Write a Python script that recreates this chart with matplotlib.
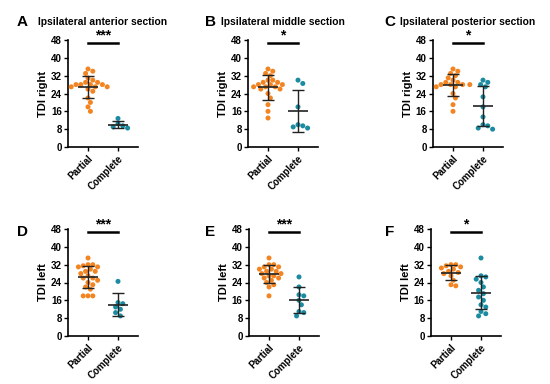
import numpy as np
import matplotlib
matplotlib.use("Agg")
import matplotlib.pyplot as plt

plt.rcParams['font.family'] = ['Liberation Sans', 'DejaVu Sans']

groups = ["Partial", "Complete"]
titles = ["Ipsilateral anterior section", "Ipsilateral middle section",
          "Ipsilateral posterior section", "", "", ""]
letters = ["A", "B", "C", "D", "E", "F"]
ylabels = ["TDI right", "TDI right", "TDI right", "TDI left", "TDI left", "TDI left"]
stars = ["***", "*", "*", "***", "***", "*"]
yticks = [0, 8, 16, 24, 32, 40, 48]

partial_A = [35, 34, 33, 31, 30, 29, 29, 28, 28, 28, 28, 27, 27, 27, 26, 25, 22, 20, 18, 16]
complete_A = [12.8, 10.5, 9.5, 9.0, 8.5]
partial_B = [35, 34, 33, 32, 30, 30, 29, 29, 28, 28, 28, 27, 27, 27, 26, 26, 24, 22, 19, 16, 13]
complete_B = [30, 28.5, 18, 10, 9.5, 9, 8.5]
partial_C = [35, 34, 33, 32, 31, 30, 29, 29, 28, 28, 28, 28, 27, 27, 24, 22, 19, 16]
complete_C = [30, 29, 28, 27, 22.5, 18, 13.5, 10, 9.5, 8.5, 8]
partial_D = [35, 32, 32, 31.5, 31, 31, 30, 29, 29, 28, 27, 26, 26, 25, 24, 23, 22, 21, 18, 18, 18]
complete_D = [24.5, 15, 14.5, 13, 12, 10.5, 9]
partial_E = [35, 32, 32, 31, 31, 30, 30, 29, 29, 28, 28, 27, 27, 26, 26, 25, 24, 23, 22, 18]
complete_E = [26.5, 22, 18.5, 18, 16, 14, 11, 10.5, 9]
partial_F = [32, 32, 31.5, 31, 30.5, 30, 29, 28.5, 28, 27, 25, 23, 22.5]
complete_F = [35, 27, 26.5, 25.5, 24, 22, 20.5, 19, 17.5, 16, 14, 13, 11, 10, 9]

data = [(partial_A, complete_A), (partial_B, complete_B), (partial_C, complete_C),
        (partial_D, complete_D), (partial_E, complete_E), (partial_F, complete_F)]

colors = ["#F28522", "#1A8BA0"]

W, H = 550, 384
fig = plt.figure(figsize=(W / 100, H / 100), dpi=100)

# axes positions in pixels: left, top, width, height
lefts = [68, 248, 433, 68, 249, 431]
tops = [40, 40, 40, 229, 229, 229]
aw, ah = 70, 107
letter_x = [22, 210, 390, 22, 210, 390]
letter_y = [22, 22, 22, 232, 232, 232]

XMIN, XMAX = -0.667, 1.667
YMIN, YMAX = 0, 48


def swarm(vals, pos, xscale, yscale, d=4.8):
    vals = np.asarray(vals, float)
    order = np.argsort(vals)[::-1]
    placed = []
    xs = np.zeros(len(vals))
    for i in order:
        yv = vals[i] * yscale
        cands = [0.0]
        for k in range(1, 12):
            cands += [k * d / 2, -k * d / 2]
        for c in cands:
            ok = True
            for (px, py) in placed:
                if (px - c) ** 2 + (py - yv) ** 2 < d * d:
                    ok = False
                    break
            if ok:
                break
        placed.append((c, yv))
        xs[i] = pos + c / xscale
    return xs


for k in range(6):
    l, t = lefts[k], tops[k]
    ax = fig.add_axes([l / W, 1 - (t + ah) / H, aw / W, ah / H])
    xscale = aw / (XMAX - XMIN)
    yscale = ah / (YMAX - YMIN)
    for g, vals in enumerate(data[k]):
        xs = swarm(vals, g, xscale, yscale)
        ax.scatter(xs, vals, s=13, color=colors[g], edgecolors="none", zorder=3, clip_on=False)
        m = np.mean(vals)
        sd = np.std(vals, ddof=1)
        ax.hlines(m, g - 0.33, g + 0.33, color="#222222", lw=1.2, zorder=4)
        ax.errorbar([g], [m], yerr=[[sd], [sd]], fmt="none", ecolor="#222222",
                    elinewidth=1.0, capsize=4, capthick=1.0, zorder=4)
    ax.set_xlim(XMIN, XMAX)
    ax.set_ylim(YMIN, YMAX)
    ax.set_yticks(yticks)
    ax.set_xticks([0, 1])
    ax.set_xticklabels(groups, rotation=45, ha="right", rotation_mode="anchor",
                       fontsize=7, fontweight="bold")
    for lab in ax.get_yticklabels():
        lab.set_fontsize(7)
        lab.set_fontweight("bold")
    ax.spines["top"].set_visible(False)
    ax.spines["right"].set_visible(False)
    ax.spines["left"].set_linewidth(1.2)
    ax.spines["bottom"].set_linewidth(1.2)
    ax.tick_params(axis="both", length=3, width=1.0, pad=1.5)
    ax.set_ylabel(ylabels[k], fontsize=8, fontweight="bold", labelpad=2)
    # significance bar
    ax.plot([0, 1], [46.5, 46.5], color="black", lw=1.8, clip_on=False)
    ax.text(0.5, 46.8, stars[k], ha="center", va="bottom", fontsize=10,
            fontweight="bold", clip_on=False)
    if titles[k]:
        fig.text((l + aw / 2) / W, 1 - 22 / H, titles[k], ha="center", va="center",
                 fontsize=7.4, fontweight="bold")
    fig.text(letter_x[k] / W, 1 - letter_y[k] / H, letters[k], ha="center", va="center",
             fontsize=11, fontweight="bold")

fig.savefig("out.png", dpi=100, facecolor="white")
